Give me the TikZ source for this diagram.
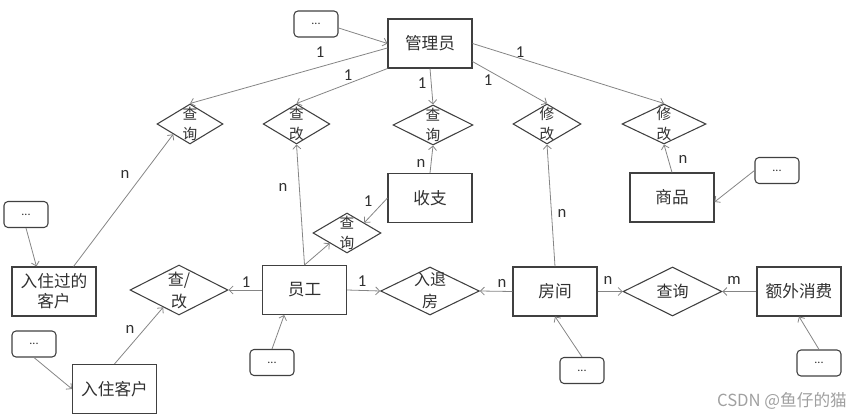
\documentclass[tikz,border=0pt]{standalone}
\usepackage{fontspec}
\setmainfont{Carlito}
\newfontfamily\cjk{Noto Sans CJK SC}
\usetikzlibrary{shapes.geometric,arrows.meta,calc}
\definecolor{boxc}{HTML}{404040}
\definecolor{linec}{HTML}{858585}
\definecolor{txtc}{HTML}{303030}
\definecolor{wmc}{HTML}{A0A0A0}
\begin{document}
\begin{tikzpicture}[x=0.75pt,y=-0.75pt,
  ent/.style={draw=boxc, line width=0.8pt, minimum width=63pt, minimum height=36.75pt,
    inner sep=0pt, align=center, text=txtc, font=\cjk\fontsize{12.5}{15}\selectfont},
  attr/.style={draw=boxc, line width=0.8pt, rounded corners=3pt, minimum width=33pt,
    minimum height=19.5pt, inner sep=0pt, text=txtc, font=\fontsize{9}{10}\selectfont},
  rel/.style n args={3}{diamond, draw=boxc, line width=0.8pt, inner sep=0pt,
    minimum width=#1, minimum height=#2,
    label={[align=center, text=txtc, font=\cjk\fontsize{11}{15}\selectfont]center:#3}},
  relb/.style n args={3}{diamond, draw=boxc, line width=0.8pt, inner sep=0pt,
    minimum width=#1, minimum height=#2,
    label={[align=center, text=txtc, font=\cjk\fontsize{12}{16.5}\selectfont]center:#3}},
  conn/.style={draw=linec, line width=0.6pt, -{Straight Barb[length=3pt,width=6pt]}},
  card/.style={text=txtc, font=\fontsize{12.5}{13}\selectfont, inner sep=0pt}
]
\useasboundingbox (0,0) rectangle (866,420);

% entities
\node[ent] (mgr) at (430,43.5) {管理员};
\node[ent] (sz)  at (430,198) {收支};
\node[ent] (sp)  at (672,197.5) {商品};
\node[ent] (c1)  at (54,291.5) {入住过的\\客户};
\node[ent] (c2)  at (114.5,389) {入住客户};
\node[ent] (emp) at (304.5,290) {员工};
\node[ent] (rm)  at (555,291.5) {房间};
\node[ent] (ex)  at (799,291.5) {额外消费};

% relationships
\node[rel={49.5pt}{30pt}{查\\询}] (dq1) at (190,124) {};
\node[rel={50pt}{30pt}{查\\改}] (dc) at (296.5,124) {};
\node[rel={60pt}{30pt}{查\\询}] (dq2) at (433,125) {};
\node[rel={51pt}{30pt}{修\\改}] (dx1) at (547,124) {};
\node[rel={63pt}{30pt}{修\\改}] (dx2) at (664,124) {};
\node[rel={51pt}{30pt}{查\\询}] (dq3) at (347,233) {};
\node[relb={73.5pt}{37.5pt}{查/\\改}] (dcg) at (179,290) {};
\node[relb={74pt}{36pt}{入退\\房}] (drt) at (430,291) {};
\node[diamond, draw=boxc, line width=0.8pt, inner sep=0pt, minimum width=74pt,
  minimum height=36.75pt, text=txtc, font=\cjk\fontsize{12}{15}\selectfont] (dq4) at (672.5,291.5) {查询};

% attribute placeholders
\node[attr] (a1) at (316,24) {...};
\node[attr] (a2) at (26,214.5) {...};
\node[attr] (a3) at (34,344) {...};
\node[attr] (a4) at (272,362.5) {...};
\node[attr] (a5) at (582,370.5) {...};
\node[attr] (a6) at (819,363) {...};
\node[attr] (a7) at (777,170.5) {...};

% connectors
\draw[conn] (a1.-10) -- (mgr.west);
\draw[conn] (mgr.186) -- (dq1.north);
\draw[conn] (mgr.south west) -- (dc.north);
\draw[conn] (mgr.south) -- (dq2.north);
\draw[conn] (mgr.-23) -- (dx1.north);
\draw[conn] (mgr.east) -- (dx2.north);
\draw[conn] (c1.52) -- (dq1.south west);
\draw[conn] (emp.north) -- (dc.south);
\draw[conn] (emp.north) -- (dq3.south west);
\draw[conn] (sz.north) -- (dq2.south);
\draw[conn] (sz.west) -- (dq3.north east);
\draw[conn] (rm.north) -- (dx1.south);
\draw[conn] (sp.north) -- (dx2.south);
\draw[conn] (a7.west) -- (sp.-6);
\draw[conn] (a2.south) -- (c1.125);
\draw[conn] (a3.south) -- (c2.west);
\draw[conn] (c2.north) -- ($(dcg.west)!0.68!(dcg.south)$);
\draw[conn] (emp.west) -- (dcg.east);
\draw[conn] (emp.east) -- (drt.west);
\draw[conn] (rm.west) -- (drt.east);
\draw[conn] (rm.east) -- (dq4.west);
\draw[conn] (ex.west) -- (dq4.east);
\draw[conn] (a4.north) -- (emp.231);
\draw[conn] (a5.north) -- (rm.south);
\draw[conn] (a6.north) -- (ex.south);

% cardinalities
\node[card] (k1) at (320,52) {1};
\node[card] (k2) at (348,75) {1};
\node[card] (k3) at (422,83) {1};
\node[card] (k4) at (488,80) {1};
\node[card] (k5) at (520,52) {1};
\node[card] (k6) at (125,174) {n};
\node[card] (k7) at (283,187) {n};
\node[card] (k8) at (421,163) {n};
\node[card] (k9) at (368,201) {1};
\node[card] (k10) at (683,159) {n};
\node[card] (k11) at (562,213) {n};
\node[card] (k12) at (130,329) {n};
\node[card] (k13) at (246,282) {1};
\node[card] (k14) at (362,281) {1};
\node[card] (k15) at (502,283) {n};
\node[card] (k16) at (608,280) {n};
\node[card] (k17) at (734,280) {m};

% watermark
\node[text=wmc, font=\cjk\fontsize{12.5}{14}\selectfont, inner sep=0pt] (wm) at (782,401) {CSDN @鱼仔的猫};
\end{tikzpicture}
\end{document}
